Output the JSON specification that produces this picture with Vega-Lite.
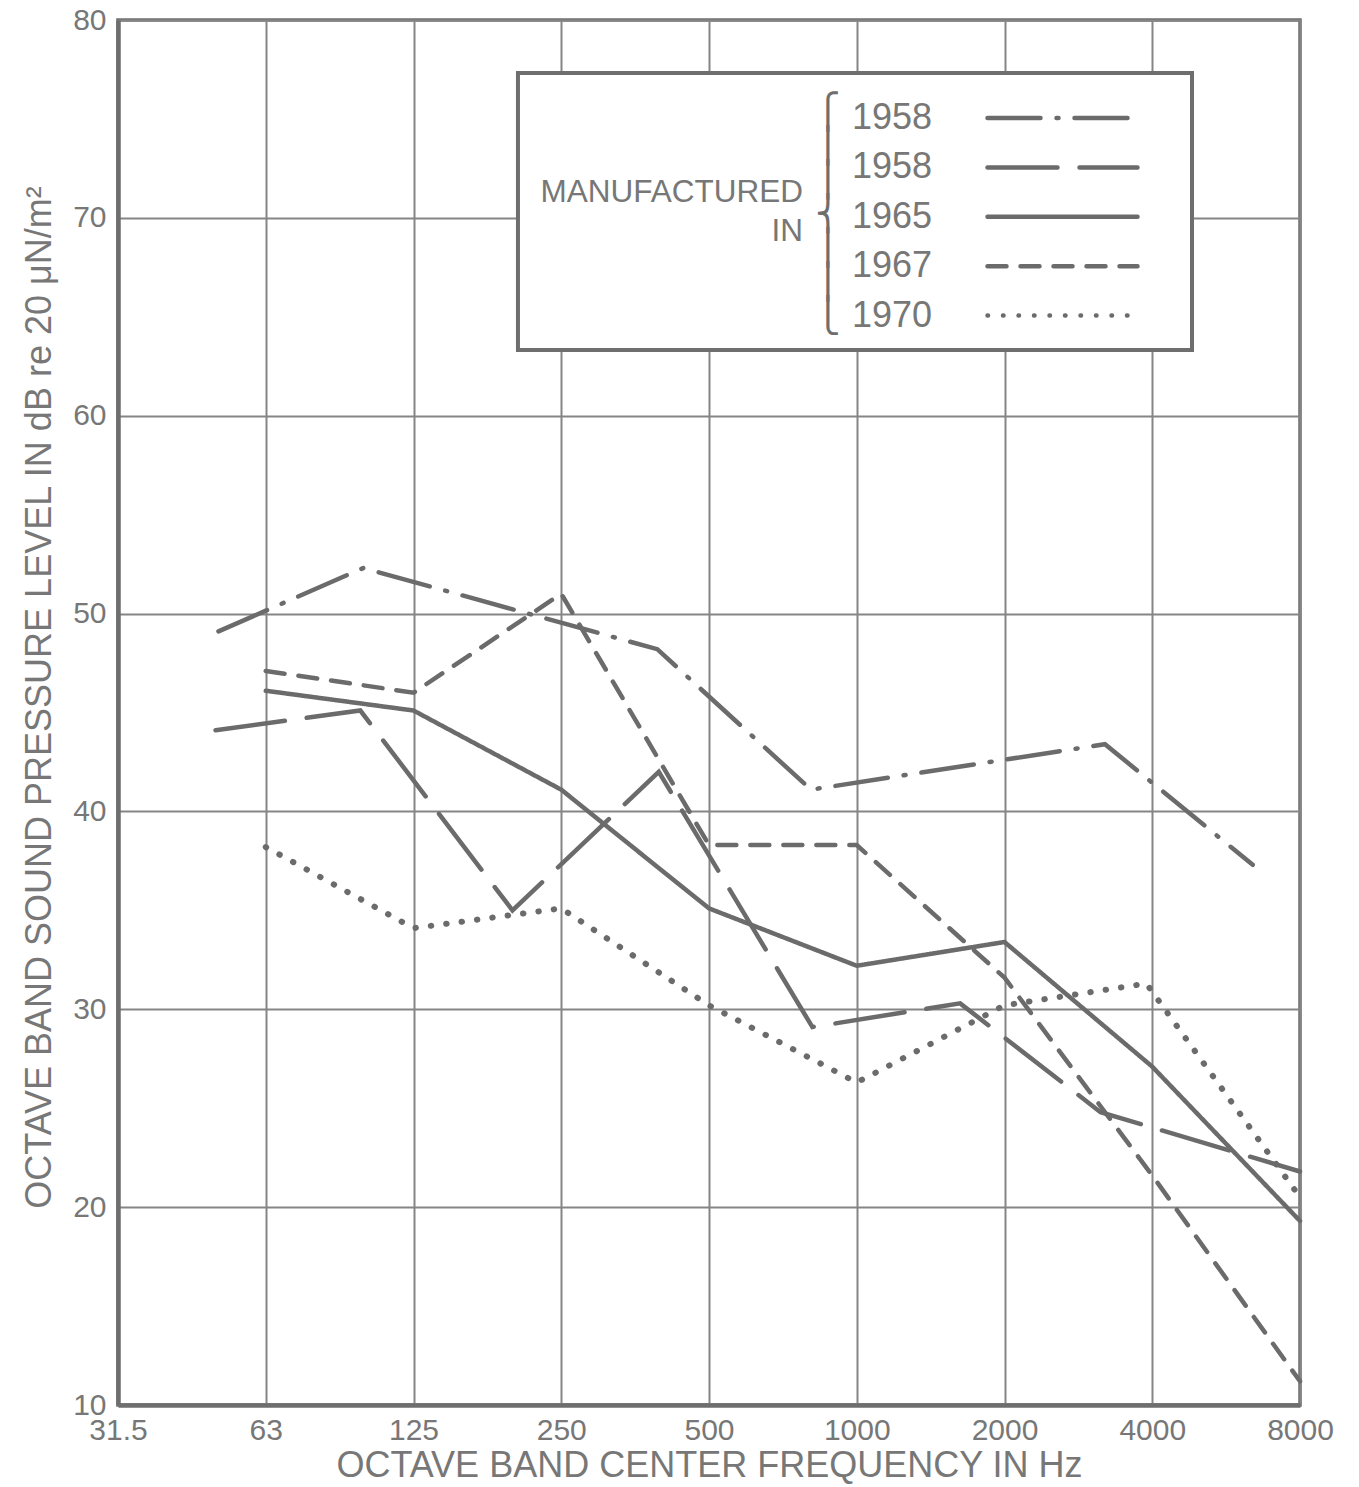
{
  "$schema": "https://vega.github.io/schema/vega-lite/v6.json",
  "width": 1182,
  "height": 1385,
  "autosize": {"type": "none"},
  "padding": {"left": 118, "top": 20, "right": 59, "bottom": 82},
  "background": "white",
  "config": {
    "font": "Liberation Sans",
    "view": {"stroke": "#6e6e6e", "strokeWidth": 3.5}
  },
  "datasets": {
    "curves": [
      {"series": "1958a", "octave": 0.68, "level": 49.1},
      {"series": "1958a", "octave": 1.66, "level": 52.3},
      {"series": "1958a", "octave": 3.65, "level": 48.2},
      {"series": "1958a", "octave": 4.69, "level": 41.1},
      {"series": "1958a", "octave": 6.68, "level": 43.4},
      {"series": "1958a", "octave": 7.68, "level": 37.3},
      {"series": "1958b", "octave": 0.66, "level": 44.1},
      {"series": "1958b", "octave": 1.64, "level": 45.1},
      {"series": "1958b", "octave": 2.67, "level": 35.0},
      {"series": "1958b", "octave": 3.66, "level": 42.0},
      {"series": "1958b", "octave": 4.70, "level": 29.1},
      {"series": "1958b", "octave": 5.70, "level": 30.3},
      {"series": "1958b", "octave": 6.65, "level": 24.8},
      {"series": "1958b", "octave": 8, "level": 21.8},
      {"series": "1965", "octave": 1, "level": 46.1},
      {"series": "1965", "octave": 2, "level": 45.1},
      {"series": "1965", "octave": 3, "level": 41.1},
      {"series": "1965", "octave": 4, "level": 35.1},
      {"series": "1965", "octave": 5, "level": 32.2},
      {"series": "1965", "octave": 6, "level": 33.4},
      {"series": "1965", "octave": 7, "level": 27.1},
      {"series": "1965", "octave": 8, "level": 19.3},
      {"series": "1967", "octave": 1, "level": 47.1},
      {"series": "1967", "octave": 2, "level": 46.0},
      {"series": "1967", "octave": 3, "level": 51.0},
      {"series": "1967", "octave": 4, "level": 38.3},
      {"series": "1967", "octave": 5, "level": 38.3},
      {"series": "1967", "octave": 6, "level": 31.6},
      {"series": "1967", "octave": 7, "level": 21.6},
      {"series": "1967", "octave": 8, "level": 11.2},
      {"series": "1970", "octave": 1, "level": 38.2},
      {"series": "1970", "octave": 2, "level": 34.1},
      {"series": "1970", "octave": 3, "level": 35.1},
      {"series": "1970", "octave": 4, "level": 30.2},
      {"series": "1970", "octave": 5, "level": 26.3},
      {"series": "1970", "octave": 6, "level": 30.2},
      {"series": "1970", "octave": 6.96, "level": 31.3},
      {"series": "1970", "octave": 8, "level": 20.5}
    ]
  },
  "layer": [
    {
      "data": {"name": "curves"},
      "transform": [{"filter": "datum.series != '1970'"}],
      "mark": {"type": "line", "strokeWidth": 4.5, "strokeCap": "round", "color": "#6b6b6b"},
      "encoding": {
        "x": {
          "field": "octave",
          "type": "quantitative",
          "scale": {"domain": [0, 8], "nice": false, "zero": false},
          "axis": {
            "values": [0, 1, 2, 3, 4, 5, 6, 7, 8],
            "labelExpr": "['31.5','63','125','250','500','1000','2000','4000','8000'][datum.value]",
            "labelFlush": false,
            "labelOverlap": false,
            "labelFontSize": 30,
            "labelColor": "#777777",
            "labelPadding": 10,
            "ticks": false,
            "domainColor": "#6e6e6e",
            "domainWidth": 4.5,
            "grid": true,
            "gridColor": "#858585",
            "gridWidth": 2,
            "title": "OCTAVE BAND CENTER FREQUENCY IN Hz",
            "titleFontSize": 36,
            "titleFontWeight": "normal",
            "titleColor": "#777777",
            "titlePadding": 3
          }
        },
        "y": {
          "field": "level",
          "type": "quantitative",
          "scale": {"domain": [10, 80], "nice": false, "zero": false},
          "axis": {
            "values": [10, 20, 30, 40, 50, 60, 70, 80],
            "labelFontSize": 30,
            "labelColor": "#777777",
            "labelPadding": 12,
            "labelOverlap": false,
            "ticks": false,
            "domainColor": "#6e6e6e",
            "domainWidth": 4.5,
            "grid": true,
            "gridColor": "#858585",
            "gridWidth": 2,
            "title": "OCTAVE BAND SOUND PRESSURE LEVEL IN dB re 20 μN/m²",
            "titleFontSize": 36,
            "titleFontWeight": "normal",
            "titleColor": "#777777",
            "titlePadding": 14,
            "titleY": 677
          }
        },
        "strokeDash": {
          "field": "series",
          "type": "nominal",
          "scale": {
            "domain": ["1958a", "1958b", "1965", "1967", "1970"],
            "range": [[53, 16, 2, 16], [70, 22], [1, 0], [19, 14], [0.5, 15]]
          },
          "legend": {
            "orient": "none",
            "legendX": 734,
            "legendY": 80,
            "title": null,
            "labelFontSize": 36,
            "labelColor": "#777777",
            "labelOffset": -228.5,
            "labelExpr": "slice(datum.label, 0, 4)",
            "symbolType": "M-5,0L5,0",
            "symbolSize": 900,
            "symbolStrokeWidth": 4.5,
            "symbolStrokeColor": "#6b6b6b",
            "symbolFillColor": "transparent",
            "symbolOffset": 192.5,
            "rowPadding": 13.4,
            "padding": 0,
            "encode": {"symbols": {"update": {"strokeCap": {"value": "round"}}}}
          }
        }
      }
    },
    {
      "data": {"name": "curves"},
      "transform": [{"filter": "datum.series == '1970'"}],
      "mark": {"type": "line", "strokeWidth": 6, "strokeCap": "round", "color": "#6b6b6b"},
      "encoding": {
        "x": {"field": "octave", "type": "quantitative", "scale": {"domain": [0, 8], "nice": false, "zero": false}},
        "y": {"field": "level", "type": "quantitative", "scale": {"domain": [10, 80], "nice": false, "zero": false}},
        "strokeDash": {
          "field": "series",
          "type": "nominal",
          "scale": {
            "domain": ["1958a", "1958b", "1965", "1967", "1970"],
            "range": [[53, 16, 2, 16], [70, 22], [1, 0], [19, 14], [0.5, 15]]
          },
          "legend": {
            "orient": "none",
            "legendX": 734,
            "legendY": 80,
            "title": null,
            "labelFontSize": 36,
            "labelColor": "#777777",
            "labelOffset": -228.5,
            "labelExpr": "slice(datum.label, 0, 4)",
            "symbolType": "M-5,0L5,0",
            "symbolSize": 900,
            "symbolStrokeWidth": 4.5,
            "symbolStrokeColor": "#6b6b6b",
            "symbolFillColor": "transparent",
            "symbolOffset": 192.5,
            "rowPadding": 13.4,
            "padding": 0,
            "encode": {"symbols": {"update": {"strokeCap": {"value": "round"}}}}
          }
        }
      }
    },
    {
      "data": {"values": [{}]},
      "mark": {"type": "rect", "fill": "white", "stroke": "#6e6e6e", "strokeWidth": 4},
      "encoding": {
        "x": {"datum": 2.707, "type": "quantitative"},
        "x2": {"datum": 7.269},
        "y": {"datum": 77.32, "type": "quantitative"},
        "y2": {"datum": 63.32}
      }
    },
    {
      "data": {"values": [{}]},
      "mark": {
        "type": "text",
        "text": ["MANUFACTURED", "IN"],
        "font": "Liberation Sans",
        "fontSize": 31.5,
        "lineHeight": 39,
        "align": "right",
        "baseline": "middle",
        "color": "#777777"
      },
      "encoding": {
        "x": {"datum": 4.636, "type": "quantitative"},
        "y": {"datum": 71.26, "type": "quantitative"}
      }
    },
    {
      "data": {"values": [{}]},
      "mark": {
        "type": "text",
        "text": ["⎧", "⎪", "⎪", "⎨", "⎪", "⎪", "⎩"],
        "font": "DejaVu Sans",
        "fontSize": 34,
        "lineHeight": 34,
        "align": "center",
        "baseline": "middle",
        "color": "#6e6e6e"
      },
      "encoding": {
        "x": {"datum": 4.805, "type": "quantitative"},
        "y": {"datum": 75.3, "type": "quantitative"}
      }
    }
  ]
}
